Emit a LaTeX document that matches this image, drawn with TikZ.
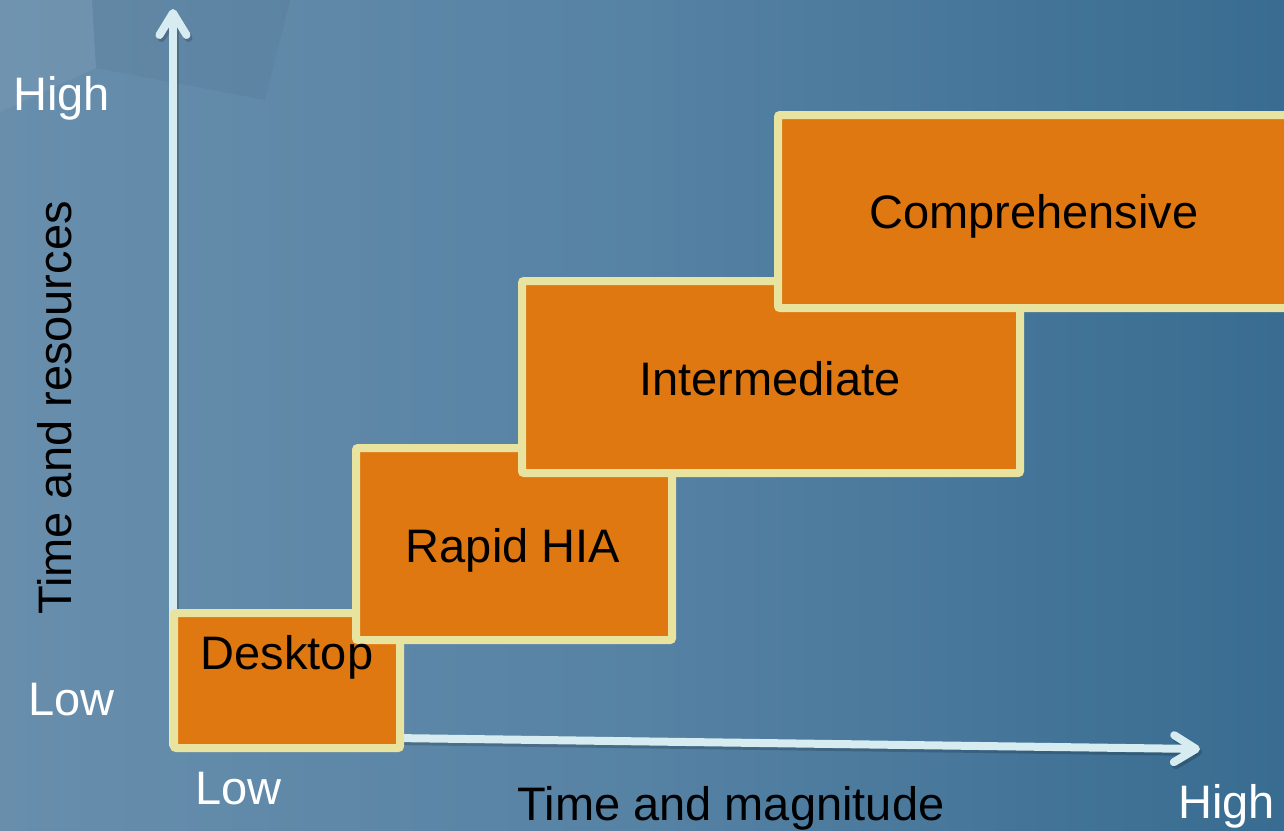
\documentclass[tikz,border=0pt]{standalone}
\usepackage{fontspec}
\setmainfont{Liberation Sans}
\usetikzlibrary{arrows.meta}
\definecolor{bgL}{RGB}{104,142,172}
\definecolor{bgM}{RGB}{86,130,164}
\definecolor{bgR}{RGB}{56,108,144}
\definecolor{boxfill}{RGB}{224,120,17}
\definecolor{boxedge}{RGB}{233,227,160}
\definecolor{axiscol}{RGB}{214,236,240}
\tikzset{
  stepbox/.style={rectangle, draw=boxedge, fill=boxfill, line width=8pt,
    rounded corners=2pt, inner sep=0pt, anchor=north west},
  axisline/.style={draw=axiscol, line width=8pt, line cap=round,
    -{Straight Barb[length=22pt,width=27pt,round]}},
  axisshadow/.style={draw=black, opacity=0.18, line width=8pt, line cap=round,
    -{Straight Barb[length=22pt,width=27pt,round]}},
  whitelbl/.style={text=white, font=\fontsize{47}{56}\selectfont, inner sep=0pt, anchor=base west},
  blacklbl/.style={text=black, font=\fontsize{47}{56}\selectfont, inner sep=0pt, anchor=base},
}
\begin{document}
\begin{tikzpicture}[x=1pt,y=-1pt]
\useasboundingbox (0,0) rectangle (1284,830);
% background
\shade[left color=bgL, right color=bgR, middle color=bgM] (0,0) rectangle (1284,830);
\fill[white, opacity=0.06] (0,0) -- (92,0) -- (96,68) -- (0,112) -- cycle;
\fill[black, opacity=0.035] (92,0) -- (290,0) -- (265,100) -- (96,68) -- cycle;

% axes end points
\coordinate (yb) at (173,745);
\coordinate (yt) at (173,9);
\coordinate (xl) at (174,735);
\coordinate (xr) at (1200,749);
\coordinate (ybs) at (175,748);
\coordinate (yts) at (175,12);
\coordinate (xls) at (176,738);
\coordinate (xrs) at (1202,752);

\path[axisshadow] (ybs) -- (yts);
\path[axisshadow] (xls) -- (xrs);
\path[axisline] (yb) -- (yt);
\path[axisline] (xl) -- (xr);

% boxes (anchor at outer edge)
\node[stepbox, minimum width=226pt, minimum height=135pt] (desk) at (170,609) {};
\node[stepbox, minimum width=316pt, minimum height=192pt] (rapid) at (352,444) {};
\node[stepbox, minimum width=498pt, minimum height=192pt] (inter) at (518,277) {};
\node[stepbox, minimum width=512pt, minimum height=193pt] (comp) at (774,111) {};

% box labels
\node[blacklbl] (tdesk) at (287,669) {Desktop};
\node[blacklbl] (trapid) at (513,562) {Rapid HIA};
\node[blacklbl] (tinter) at (770,395) {Intermediate};
\node[blacklbl] (tcomp) at (1034,228) {Comprehensive};

% axis labels
\node[whitelbl] (yhigh) at (13,110) {High};
\node[whitelbl] (ylow) at (28,715) {Low};
\node[whitelbl] (xlow) at (195,804) {Low};
\node[whitelbl] (xhigh) at (1178,818) {High};
\node[blacklbl] (xtitle) at (731,820) {Time and magnitude};
\node[blacklbl, rotate=90] (ytitle) at (71,408) {Time and resources};
\end{tikzpicture}
\end{document}
